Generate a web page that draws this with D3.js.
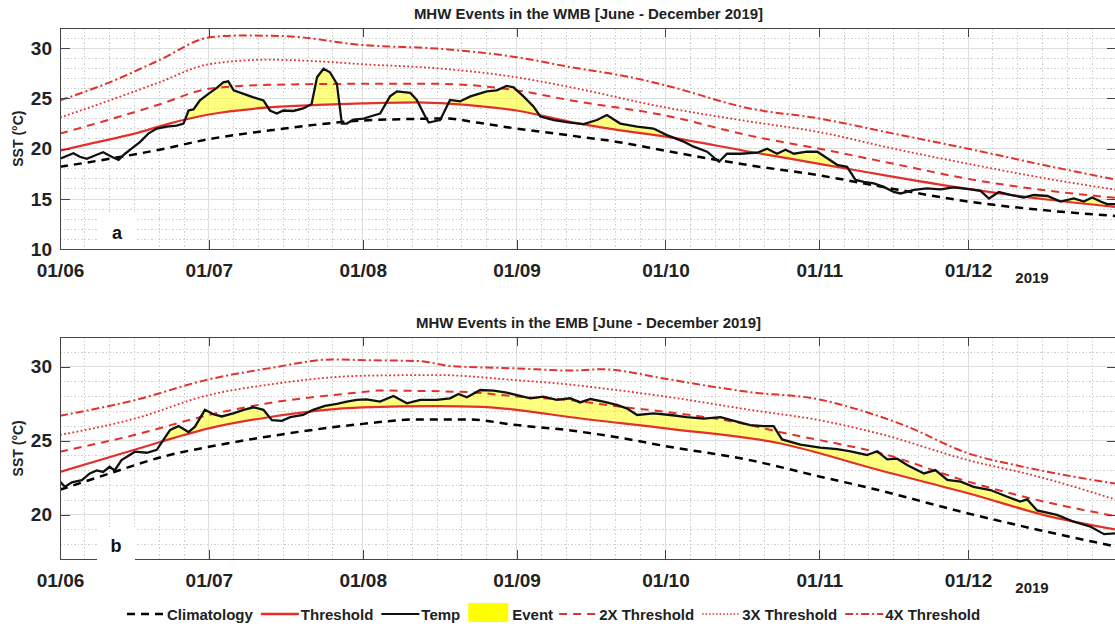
<!DOCTYPE html>
<html>
<head>
<meta charset="UTF-8">
<script src="https://cdn.jsdelivr.net/npm/d3@7"></script>
<style>
  body { margin: 0; background: #fff; }
  svg { font-family: "Liberation Sans", Arial, sans-serif; }
  .axis path, .axis line { stroke: #444; shape-rendering: crispEdges; }
  .axis text { font-size: 19px; font-weight: bold; fill: #222; }
  .grid-major line { stroke: #dedede; stroke-width: 1; shape-rendering: crispEdges; }
  .grid-minor line { stroke: #cfcfcf; stroke-width: 1; stroke-dasharray: 1.5,2; shape-rendering: crispEdges; }
</style>
</head>
<body>
<svg id="chart" width="1115" height="627"></svg>
<script>

// ---- data: [day since 1 June 2019, value in degC] ----

// WMB (panel a)
var wmbClim = [[0,18.2],[10,19.0],[20,19.9],[30,20.95],[42,21.8],[61,22.8],[70,22.95],[78,23.0],[84,22.6],[92,22.0],[103,21.3],[112,20.7],[122,19.8],[131,19.0],[139,18.35],[153,17.35],[168,16.0],[183,14.75],[198,13.9],[213,13.3]];
var wmbThresh = [[0,19.8],[7,20.6],[15,21.5],[22,22.5],[30,23.4],[42,24.1],[52,24.35],[61,24.5],[72,24.6],[79,24.45],[85,24.2],[92,23.8],[103,22.65],[112,21.9],[122,21.2],[139,19.7],[153,18.5],[168,17.2],[183,16.0],[198,15.0],[213,14.2]];
var wmb2x = [[0,21.5],[10,22.9],[20,24.4],[30,25.95],[42,26.35],[61,26.45],[76,26.45],[92,25.8],[103,24.8],[122,23.3],[139,21.3],[153,20.0],[168,18.5],[183,17.0],[198,15.9],[213,15.1]];
var wmb3x = [[0,23.1],[10,24.8],[20,26.6],[30,28.4],[42,28.85],[55,28.6],[61,28.4],[76,28.0],[92,27.1],[103,26.1],[122,24.1],[139,22.7],[153,21.65],[168,20.0],[183,18.5],[198,17.1],[213,15.9]];
var wmb4x = [[0,24.8],[10,26.6],[20,28.8],[30,31.05],[36,31.25],[45,31.2],[61,30.3],[76,29.95],[92,29.1],[103,28.1],[115,27.1],[122,26.3],[139,24.0],[153,23.0],[168,21.5],[183,20.0],[198,18.4],[213,16.9]];
var wmbTemp = [[0,19.0],[2.7,19.55],[4,19.2],[5.4,19.0],[7.4,19.4],[8.7,19.65],[10.4,19.2],[11.8,18.9],[13.1,19.5],[14.8,20.15],[16.1,20.65],[17.8,21.5],[19.5,22.0],[21.5,22.2],[23.5,22.3],[24.9,22.5],[25.9,23.8],[26.9,23.9],[28.2,24.8],[29.9,25.45],[31.6,26.05],[32.9,26.6],[33.9,26.7],[35,25.8],[37,25.45],[39,25.1],[41,24.8],[42.3,23.8],[43.7,23.5],[45,23.8],[47,23.75],[49,24.0],[50.7,24.45],[51.8,27.1],[53.1,27.95],[54.4,27.6],[55.8,26.45],[56.8,22.5],[57.8,22.5],[59.1,22.9],[61.2,23.0],[62.5,23.2],[64.5,23.5],[66.5,25.2],[67.9,25.7],[70.6,25.55],[71.9,24.85],[73.6,23.2],[74.3,22.6],[76.6,22.85],[78.6,24.85],[80.6,24.7],[82.7,25.2],[86,25.7],[88,25.8],[90,26.25],[91.4,26.1],[93.4,25.2],[95.4,24.2],[96.8,23.2],[99.5,22.85],[102.8,22.6],[105.5,22.45],[108.2,22.85],[110.2,23.35],[112.9,22.5],[116.3,22.2],[119.6,22.0],[122.3,21.35],[125.7,20.7],[127.7,20.2],[130.4,19.7],[132.8,18.7],[134.4,19.5],[137.1,19.5],[140.5,19.6],[142.5,20.0],[144.5,19.5],[146.2,19.9],[147.9,19.5],[150.5,19.7],[152.6,19.7],[154.6,19.05],[156.6,18.4],[158.6,18.2],[160.3,16.9],[162,16.7],[164,16.55],[166,16.2],[168,15.7],[169.4,15.55],[172.1,15.9],[174.7,16.05],[177.4,15.95],[180.1,16.15],[183.5,15.95],[185.5,15.8],[187.2,15.05],[189.2,15.7],[191.5,15.4],[194.2,15.15],[196.2,15.4],[199,15.3],[201.6,14.75],[204.3,15.05],[206.3,14.75],[208,15.15],[209.7,14.75],[211,14.5],[212.7,14.5]];

// EMB (panel b)
var embClim = [[0,21.7],[10,22.8],[21.5,24.0],[30,24.6],[42,25.3],[61,26.15],[72,26.45],[82,26.45],[92,26.07],[103,25.7],[113,25.2],[122,24.65],[139,23.7],[153,22.6],[164,21.75],[183,20.1],[197,19.0],[213,17.85]];
var embThresh = [[0,22.9],[15,24.4],[30,25.85],[42,26.6],[61,27.27],[76,27.35],[85,27.3],[92,27.1],[103,26.6],[122,25.85],[145,24.84],[165,23.03],[183,21.46],[200,19.85],[213,19.0]];
var emb2x = [[0,24.27],[15,25.4],[30,26.75],[42,27.55],[61,28.3],[64,28.4],[82,28.3],[92,28.0],[103,27.75],[113,27.3],[122,26.97],[139,26.07],[145,25.6],[153,25.06],[165,24.2],[183,22.25],[197,21.0],[213,19.9]];
var emb3x = [[0,25.4],[15,26.5],[30,28.1],[42,28.8],[61,29.4],[76,29.45],[92,29.1],[103,28.8],[113,28.4],[122,28.0],[139,27.1],[153,26.4],[165,25.5],[183,23.7],[197,22.6],[213,21.0]];
var emb4x = [[0,26.7],[15,27.75],[30,29.16],[42,29.9],[55,30.5],[62,30.45],[72,30.4],[79,30.05],[92,29.9],[103,29.75],[109,29.84],[122,29.2],[129,28.8],[139,28.3],[153,27.8],[160,27.2],[170,26.07],[183,24.16],[194,23.26],[204,22.6],[213,22.1]];
var embTemp = [[0,22.25],[1,21.9],[2.4,22.2],[4.4,22.35],[6,22.8],[7.4,23.0],[8.7,22.9],[10,23.25],[11,23.0],[12.4,23.7],[13.8,24.0],[15.1,24.27],[17.5,24.2],[19.5,24.4],[20.8,25.06],[22.2,25.74],[23.9,26.0],[25.9,25.6],[27.2,25.96],[29.2,27.1],[30.9,26.8],[32.6,26.65],[34.9,26.86],[37,27.1],[39,27.27],[41,27.1],[42.7,26.4],[44.7,26.35],[46.4,26.6],[49,26.75],[51,27.1],[53.4,27.36],[55.8,27.5],[57.8,27.65],[59.8,27.77],[61.8,27.8],[64.5,27.65],[67.2,28.03],[69.9,27.54],[72.6,27.77],[75.9,27.77],[78.6,27.88],[80.3,28.17],[82,27.95],[84.7,28.44],[87.4,28.4],[90,28.26],[92.1,28.1],[94.8,27.88],[97.4,27.99],[100.1,27.77],[102.8,27.88],[104.8,27.6],[106.9,27.83],[109.5,27.65],[112.2,27.43],[114.2,27.2],[116.3,26.75],[119.6,26.86],[123,26.75],[126.3,26.6],[129.7,26.5],[133.1,26.6],[136.4,26.3],[139.1,26.07],[141.8,26.0],[143.8,26.0],[145.5,25.1],[149.2,24.75],[153.2,24.55],[156.6,24.45],[159.3,24.3],[162.6,24.05],[164.7,24.3],[166.7,23.75],[168.7,23.8],[170.7,23.37],[174.1,22.8],[176.4,23.03],[178.8,22.36],[181.5,22.25],[184.1,21.9],[187.5,21.68],[190.9,21.23],[193.5,20.9],[194.9,21.05],[196.9,20.3],[200.9,20.0],[204.3,19.54],[207.7,19.2],[210.4,18.7],[212.7,18.76]];

var titles = ["MHW Events in the WMB [June - December 2019]", "MHW Events in the EMB [June - December 2019]"];
var panelLabels = ["a", "b"];
var legendLabels = ["Climatology", "Threshold", "Temp", "Event", "2X Threshold", "3X Threshold", "4X Threshold"];

// ---- layout ----
var red = "#e3302c";
var start = Date.UTC(2019, 5, 1);
function toDate(d) { return new Date(start + d * 864e5); }

var svg = d3.select("#chart");
var left = 60, W = 1057;

var x = d3.scaleUtc().domain([toDate(0), toDate(213)]).range([0, W]);
var monthTicks = d3.utcMonth.range(toDate(0), toDate(214));
var minorX = d3.utcDay.range(toDate(0), toDate(214)).filter(function(d) {
  return [6, 11, 16, 21, 26].indexOf(d.getUTCDate()) >= 0;
});

var panels = [
  { top: 28, h: 221.3, dom: [10, 32], clim: wmbClim, thr: wmbThresh, t2: wmb2x, t3: wmb3x, t4: wmb4x, temp: wmbTemp,
    labelBox: [97, 214, 40, 34] },
  { top: 337.3, h: 222, dom: [17, 32], clim: embClim, thr: embThresh, t2: emb2x, t3: emb3x, t4: emb4x, temp: embTemp,
    labelBox: [97, 527, 38, 34] }
];

panels.forEach(function(p, i) {
  var y = d3.scaleLinear().domain(p.dom).range([p.h, 0]);
  var g = svg.append("g").attr("transform", "translate(" + left + "," + p.top + ")");

  var majorY = d3.range(Math.ceil(p.dom[0] / 5) * 5, p.dom[1] + 0.01, 5);
  var minorY = d3.range(p.dom[0], p.dom[1] + 0.01, 1).filter(function(v) { return v % 5 !== 0; });

  // grid
  var gm = g.append("g").attr("class", "grid-minor");
  gm.selectAll(".mx").data(minorX).enter().append("line")
    .attr("x1", function(d) { return x(d); }).attr("x2", function(d) { return x(d); })
    .attr("y1", 0).attr("y2", p.h);
  gm.selectAll(".my").data(minorY).enter().append("line")
    .attr("x1", 0).attr("x2", W)
    .attr("y1", function(d) { return y(d); }).attr("y2", function(d) { return y(d); });
  var gM = g.append("g").attr("class", "grid-major");
  gM.selectAll(".Mx").data(monthTicks).enter().append("line")
    .attr("x1", function(d) { return x(d); }).attr("x2", function(d) { return x(d); })
    .attr("y1", 0).attr("y2", p.h);
  gM.selectAll(".My").data(majorY).enter().append("line")
    .attr("x1", 0).attr("x2", W)
    .attr("y1", function(d) { return y(d); }).attr("y2", function(d) { return y(d); });

  // clip to plot box
  g.append("clipPath").attr("id", "box" + i).append("rect")
    .attr("width", W).attr("height", p.h);
  var plot = g.append("g").attr("clip-path", "url(#box" + i + ")");

  var line = d3.line()
    .x(function(d) { return x(toDate(d[0])); })
    .y(function(d) { return y(d[1]); })
    .curve(d3.curveMonotoneX);

  // event fill: below temp and above threshold
  plot.append("clipPath").attr("id", "above" + i).append("path")
    .attr("d", d3.area()
      .x(function(d) { return x(toDate(d[0])); })
      .y0(function(d) { return y(d[1]); })
      .y1(-5)
      .curve(d3.curveMonotoneX)(p.thr));
  plot.append("path")
    .attr("clip-path", "url(#above" + i + ")")
    .attr("d", d3.area()
      .x(function(d) { return x(toDate(d[0])); })
      .y0(p.h + 5)
      .y1(function(d) { return y(d[1]); })(p.temp))
    .attr("fill", "#ffff00").attr("fill-opacity", 0.5);

  function draw(data, color, width, dash, curved) {
    var l = curved ? line : d3.line()
      .x(function(d) { return x(toDate(d[0])); })
      .y(function(d) { return y(d[1]); });
    plot.append("path").datum(data)
      .attr("d", l)
      .attr("fill", "none")
      .attr("stroke", color)
      .attr("stroke-width", width)
      .attr("stroke-dasharray", dash);
  }
  draw(p.clim, "#000", 2.5, "8,6", true);
  draw(p.t4, red, 2, "8,3,2,3", true);
  draw(p.t3, red, 1.8, "1.8,2.4", true);
  draw(p.t2, red, 2, "8,6", true);
  draw(p.thr, red, 2.2, null, true);
  draw(p.temp, "#111", 2.3, null, false);

  // axes
  g.append("g").attr("class", "axis")
    .attr("transform", "translate(0," + p.h + ")")
    .call(d3.axisBottom(x).tickValues(monthTicks).tickFormat(d3.utcFormat("%d/%m"))
      .tickSizeInner(-9).tickSizeOuter(0).tickPadding(14));
  g.append("g").attr("class", "axis")
    .call(d3.axisTop(x).tickValues(monthTicks).tickFormat("").tickSizeInner(-9).tickSizeOuter(0));
  g.append("g").attr("class", "axis")
    .call(d3.axisLeft(y).tickValues(majorY).tickFormat(d3.format("d"))
      .tickSizeInner(-10).tickSizeOuter(0).tickPadding(8));
  g.append("g").attr("class", "axis")
    .attr("transform", "translate(" + W + ",0)")
    .call(d3.axisRight(y).tickValues(majorY).tickFormat("").tickSizeInner(-10).tickSizeOuter(0));

  // titles and labels
  svg.append("text")
    .attr("x", left + W / 2).attr("y", p.top - 9)
    .attr("text-anchor", "middle")
    .style("font-size", "15px").style("font-weight", "bold").attr("fill", "#222")
    .text(titles[i]);
  svg.append("text")
    .attr("transform", "translate(23," + (p.top + p.h / 2) + ") rotate(-90)")
    .attr("text-anchor", "middle")
    .style("font-size", "14px").style("font-weight", "bold").attr("fill", "#222")
    .text("SST (°C)");
  svg.append("text")
    .attr("x", 1032).attr("y", p.top + p.h + 34)
    .attr("text-anchor", "middle")
    .style("font-size", "15px").style("font-weight", "bold").attr("fill", "#222")
    .text("2019");

  var b = p.labelBox;
  svg.append("rect").attr("x", b[0]).attr("y", b[1]).attr("width", b[2]).attr("height", b[3]).attr("fill", "#fff");
  svg.append("text")
    .attr("x", b[0] + b[2] / 2).attr("y", b[1] + 25)
    .attr("text-anchor", "middle")
    .style("font-size", "18px").style("font-weight", "bold").attr("fill", "#111")
    .text(panelLabels[i]);
});

// legend
var legendStyle = [
  { stroke: "#000", w: 2.5, dash: "8,6" },
  { stroke: red, w: 2.5, dash: null },
  { stroke: "#111", w: 2.2, dash: null },
  { rect: true },
  { stroke: red, w: 2, dash: "8,6" },
  { stroke: red, w: 1.5, dash: "1.5,2" },
  { stroke: red, w: 2, dash: "8,3,2,3" }
];
var lg = svg.append("g");
var lx = 127, ly = 614;
legendLabels.forEach(function(lab, k) {
  var s = legendStyle[k], sw;
  if (s.rect) {
    sw = 40;
    lg.append("rect").attr("x", lx).attr("y", ly - 11).attr("width", sw).attr("height", 19).attr("fill", "#ffff00");
  } else {
    sw = 38;
    lg.append("line").attr("x1", lx).attr("x2", lx + sw).attr("y1", ly).attr("y2", ly)
      .attr("stroke", s.stroke).attr("stroke-width", s.w).attr("stroke-dasharray", s.dash);
  }
  var t = lg.append("text").attr("x", lx + sw + (s.rect ? 4 : 2)).attr("y", ly + 5.5)
    .style("font-size", "15px").style("font-weight", "bold").attr("fill", "#222")
    .text(lab);
  lx += sw + 2 + t.node().getComputedTextLength() + 8;
});
</script>
</body>
</html>
